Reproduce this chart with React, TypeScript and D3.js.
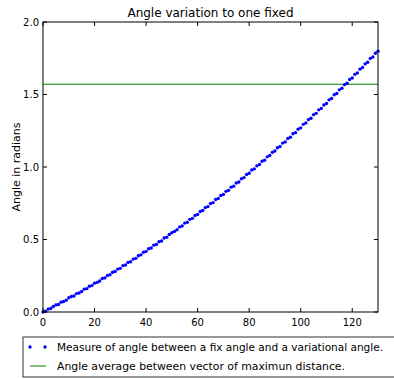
import React from "react";
import * as d3 from "d3";

const W = 394;
const H = 379;

// Measured angle (radians) for each sample index 0..130
const angleValues = [
  0.000, 0.006, 0.020, 0.024, 0.038, 0.049, 0.052, 0.068, 0.072, 0.081,
  0.098, 0.107, 0.110, 0.127, 0.131, 0.141, 0.158, 0.161, 0.178, 0.182,
  0.199, 0.204, 0.214, 0.231, 0.235, 0.252, 0.257, 0.274, 0.279, 0.296,
  0.301, 0.320, 0.324, 0.342, 0.347, 0.365, 0.370, 0.388, 0.394, 0.412,
  0.418, 0.436, 0.441, 0.461, 0.466, 0.485, 0.490, 0.510, 0.516, 0.535,
  0.547, 0.556, 0.567, 0.587, 0.593, 0.613, 0.619, 0.639, 0.646, 0.666,
  0.673, 0.693, 0.700, 0.720, 0.727, 0.748, 0.754, 0.776, 0.783, 0.803,
  0.811, 0.832, 0.839, 0.861, 0.868, 0.890, 0.897, 0.919, 0.927, 0.948,
  0.957, 0.979, 0.987, 1.008, 1.017, 1.040, 1.047, 1.070, 1.079, 1.101,
  1.110, 1.133, 1.141, 1.165, 1.173, 1.197, 1.205, 1.229, 1.237, 1.261,
  1.270, 1.294, 1.303, 1.327, 1.336, 1.361, 1.370, 1.394, 1.404, 1.428,
  1.438, 1.463, 1.472, 1.498, 1.507, 1.532, 1.543, 1.568, 1.578, 1.603,
  1.614, 1.639, 1.649, 1.675, 1.686, 1.711, 1.722, 1.748, 1.759, 1.785,
  1.799,
];

// Average angle between vectors of maximum distance (pi / 2)
const averageAngle = [1.5708];

const xTicks = [0, 20, 40, 60, 80, 100, 120];
const yTicks = [0, 0.5, 1.0, 1.5, 2.0];

const legendLabels = [
  "Measure of angle between a fix angle and a variational angle.",
  "Angle average between vector of maximun distance.",
];

const margin = { left: 43, top: 22, right: 378, bottom: 312 };

export default function App() {
  const x = d3.scaleLinear().domain([0, 130]).range([margin.left, margin.right]);
  const y = d3.scaleLinear().domain([0, 2.0]).range([margin.bottom, margin.top]);
  const font = "DejaVu Sans, sans-serif";
  const tick = 4;

  return (
    <svg
      width={W}
      height={H}
      style={{ position: "absolute", left: 0, top: 0, background: "#fff" }}
      fontFamily={font}
    >
      {/* title */}
      <text x={(margin.left + margin.right) / 2} y={17} fontSize={12} textAnchor="middle" fill="#000">
        Angle variation to one fixed
      </text>

      {/* y axis label */}
      <text
        transform={`translate(20,${(margin.top + margin.bottom) / 2}) rotate(-90)`}
        fontSize={11}
        textAnchor="middle"
        fill="#000"
      >
        Angle in radians
      </text>

      {/* average line */}
      {averageAngle.map((v, i) => (
        <line key={i} x1={x(0)} x2={x(130)} y1={y(v)} y2={y(v)} stroke="#008000" strokeWidth={1} />
      ))}

      {/* measured points */}
      {angleValues.map((v, i) => (
        <circle key={i} cx={x(i)} cy={y(v)} r={1.7} fill="#0000ff" />
      ))}

      {/* frame */}
      <rect
        x={margin.left}
        y={margin.top}
        width={margin.right - margin.left}
        height={margin.bottom - margin.top}
        fill="none"
        stroke="#000"
        strokeWidth={1}
      />

      {/* x ticks (bottom and top, inward) */}
      {xTicks.map((t) => (
        <g key={t}>
          <line x1={x(t)} x2={x(t)} y1={margin.bottom} y2={margin.bottom - tick} stroke="#000" />
          <line x1={x(t)} x2={x(t)} y1={margin.top} y2={margin.top + tick} stroke="#000" />
          <text x={x(t)} y={margin.bottom + 14} fontSize={10} textAnchor="middle" fill="#000">
            {t}
          </text>
        </g>
      ))}

      {/* y ticks (left and right, inward) */}
      {yTicks.map((t) => (
        <g key={t}>
          <line x1={margin.left} x2={margin.left + tick} y1={y(t)} y2={y(t)} stroke="#000" />
          <line x1={margin.right} x2={margin.right - tick} y1={y(t)} y2={y(t)} stroke="#000" />
          <text x={margin.left - 4} y={y(t) + 3.5} fontSize={10} textAnchor="end" fill="#000">
            {t.toFixed(1)}
          </text>
        </g>
      ))}

      {/* legend */}
      <g>
        <rect x={23} y={337} width={380} height={40} fill="#fff" stroke="#333" strokeWidth={1} />
        <circle cx={30} cy={347} r={1.7} fill="#0000ff" />
        <circle cx={45} cy={347} r={1.7} fill="#0000ff" />
        <text x={57} y={351} fontSize={10.5} fill="#000" textLength={326} lengthAdjust="spacingAndGlyphs">
          {legendLabels[0]}
        </text>
        <line x1={30} x2={46} y1={366} y2={366} stroke="#008000" strokeWidth={1} />
        <text x={57} y={370} fontSize={10.5} fill="#000" textLength={288} lengthAdjust="spacingAndGlyphs">
          {legendLabels[1]}
        </text>
      </g>
    </svg>
  );
}
